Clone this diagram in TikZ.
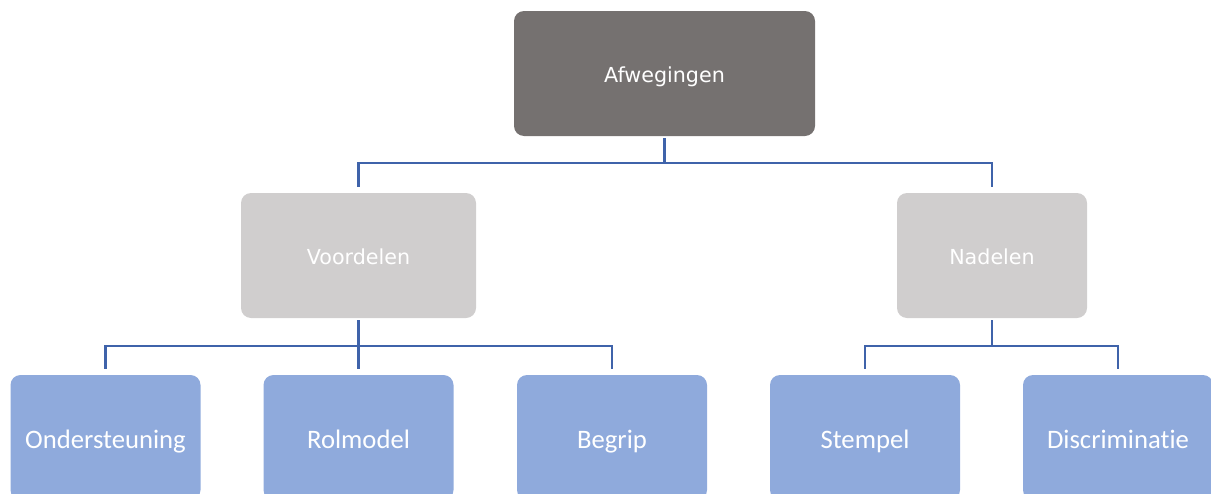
\documentclass[tikz,border=0pt]{standalone}
\usepackage{fontspec}
\setmainfont{Carlito}[Ligatures=NoCommon]
\newfontfamily\dejavu{DejaVu Sans}
\usetikzlibrary{positioning,calc}
\definecolor{topgrey}{HTML}{757170}
\definecolor{midgrey}{HTML}{D0CECE}
\definecolor{leafblue}{HTML}{8FAADC}
\definecolor{linkblue}{HTML}{3F63AA}
\begin{document}
\begin{tikzpicture}[x=0.75pt,y=-0.75pt,
  every node/.style={align=center,text=white,inner sep=0pt,rounded corners=7.5pt,text depth=0.22em},
  rootbox/.style={fill=topgrey,minimum width=225.75pt,minimum height=93.75pt,text height=15.7pt,font=\dejavu\fontsize{15.5}{18}\selectfont},
  groupbox/.style={fill=midgrey,minimum height=93.75pt,text height=15.7pt,font=\dejavu\fontsize{15.5}{18}\selectfont},
  leafbox/.style={fill=leafblue,minimum width=142.5pt,minimum height=93.75pt,text height=19pt,font=\fontsize{20}{24}\selectfont},
  link/.style={draw=linkblue,line width=2pt}]
\useasboundingbox (0,0) rectangle (1211,493);
\node[rootbox] (afw) at (664.5,73.5) {Afwegingen};
\node[groupbox,minimum width=176.25pt] (voor) at (358.5,255.5) {Voordelen};
\node[groupbox,minimum width=142.5pt] (na) at (992,255.5) {Nadelen};
\node[leafbox] (ond) at (105.5,437.5) {Ondersteuning};
\node[leafbox] (rol) at (358.5,437.5) {Rolmodel};
\node[leafbox] (beg) at (612,437.5) {Begrip};
\node[leafbox] (stem) at (865,437.5) {Stempel};
\node[leafbox] (disc) at (1118,437.5) {Discriminatie};
% junctions
\coordinate (j0) at (664.5,163);
\coordinate (j1) at (358.5,346);
\coordinate (j2) at (992,346);
\draw[link,shorten <=1.5pt] (afw.south) -- (j0);
\draw[link,shorten >=4.5pt] (j0) -| (voor.north);
\draw[link,shorten >=4.5pt] (j0) -| (na.north);
\draw[link,shorten <=1.5pt] (voor.south) -- (j1);
\draw[link,shorten >=4pt] (j1) -| (ond.north);
\draw[link,shorten >=4pt] (j1) -- (rol.north);
\draw[link,shorten >=4pt] (j1) -| (beg.north);
\draw[link,shorten <=1.5pt] (na.south) -- (j2);
\draw[link,shorten >=4pt] (j2) -| (stem.north);
\draw[link,shorten >=4pt] (j2) -| (disc.north);
\end{tikzpicture}
\end{document}
